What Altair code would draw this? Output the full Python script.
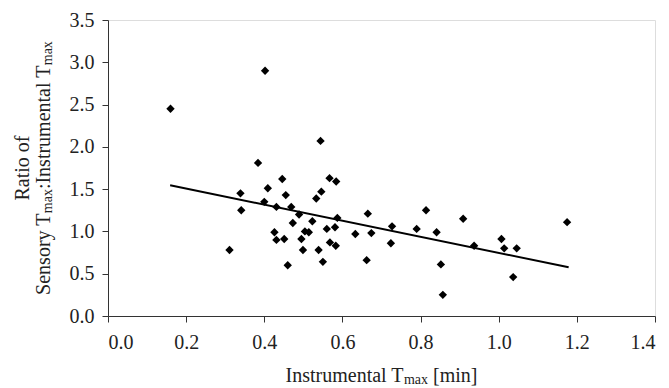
import altair as alt
import pandas as pd

# ---- data ----
instr_tmax = [0.402, 0.160, 0.384, 0.409, 0.339, 0.400, 0.341, 0.426, 0.431, 0.311,
              0.544, 0.446, 0.567, 0.584, 0.546, 0.533, 0.455, 0.431, 0.469, 0.489,
              0.473, 0.523, 0.587, 0.665, 0.451, 0.504, 0.514, 0.495, 0.560, 0.581,
              0.633, 0.674, 0.499, 0.539, 0.568, 0.583, 0.460, 0.550, 0.662, 0.727,
              0.724, 0.814, 0.790, 0.841, 0.909, 0.937, 0.852, 0.857, 1.175, 1.007,
              1.014, 1.046, 1.037]
ratio = [2.90, 2.45, 1.81, 1.51, 1.45, 1.35, 1.25, 0.99, 0.90, 0.78,
         2.07, 1.62, 1.63, 1.59, 1.47, 1.39, 1.43, 1.29, 1.29, 1.20,
         1.10, 1.12, 1.16, 1.21, 0.91, 1.00, 0.99, 0.91, 1.03, 1.05,
         0.97, 0.98, 0.78, 0.78, 0.87, 0.83, 0.60, 0.64, 0.66, 1.06,
         0.86, 1.25, 1.03, 0.99, 1.15, 0.83, 0.61, 0.25, 1.11, 0.91,
         0.80, 0.80, 0.46]
fit_x = [0.159, 1.179]
fit_y = [1.545, 0.576]
x_ticks = [0.0, 0.2, 0.4, 0.6, 0.8, 1.0, 1.2, 1.4]
y_ticks = [0.0, 0.5, 1.0, 1.5, 2.0, 2.5, 3.0, 3.5]

FONT = "Liberation Serif, Times New Roman, serif"
W, H = 547, 296
MAIN, SUB = 20, 14

# Times / Liberation Serif advance widths (per 1000 em)
TW = {"I": 333, "n": 500, "s": 389, "t": 278, "r": 333, "u": 500, "m": 778, "e": 444,
      "a": 444, "l": 278, " ": 250, "T": 611, "x": 500, "[": 333, "i": 278, "]": 333,
      "S": 556, "o": 500, "y": 500, ":": 278, "R": 667, "f": 333}


def tw(s, size):
    return sum(TW.get(c, 500) for c in s) * size / 1000.0


pts = pd.DataFrame({"x": instr_tmax, "y": ratio})
fit = pd.DataFrame({"x": fit_x, "y": fit_y})

xs = alt.Scale(domain=[0, 1.4], nice=False, zero=False)
ys = alt.Scale(domain=[0, 3.5], nice=False, zero=False)

axis_common = dict(labelFont=FONT, labelFontSize=MAIN, labelColor="#222", tickColor="#333",
                   domainColor="#333", tickSize=6, grid=False, format=".1f", title=None)

points = alt.Chart(pts).mark_point(shape="diamond", filled=True, color="black", size=70, opacity=1).encode(
    x=alt.X("x:Q", scale=xs, axis=alt.Axis(values=x_ticks, labelPadding=10, **axis_common)),
    y=alt.Y("y:Q", scale=ys, axis=alt.Axis(values=y_ticks, labelPadding=8, **axis_common)),
)

line = alt.Chart(fit).mark_line(color="black", strokeWidth=2).encode(
    x=alt.X("x:Q", scale=xs), y=alt.Y("y:Q", scale=ys))


def txt(s, x, y, size, angle=0, align="left"):
    return alt.Chart(alt.Data(values=[{}])).mark_text(
        text=s, font=FONT, fontSize=size, color="#222", angle=angle, align=align,
        baseline="alphabetic").encode(x=alt.value(x), y=alt.value(y))


layers = [points, line]

# x title: Instrumental T_max [min]  (leading spaces are drawn as offsets)
parts = [("Instrumental T", MAIN, 0), ("max", SUB, 2), (" [min]", MAIN, 0)]
total = sum(tw(s, sz) for s, sz, _ in parts)
cx = W / 2 - total / 2
for s, sz, dy in parts:
    lead = len(s) - len(s.lstrip(" "))
    layers.append(txt(s.lstrip(" "), cx + tw(" " * lead, sz), H + 66 + dy, sz))
    cx += tw(s, sz)

# y title line 1
layers.append(txt("Ratio of", -79, H / 2, MAIN, angle=270, align="center"))
# y title line 2: Sensory T_max:Instrumental T_max
parts = [("Sensory T", MAIN, 0), ("max", SUB, 2), (":Instrumental T", MAIN, 0), ("max", SUB, 2)]
total = sum(tw(s, sz) for s, sz, _ in parts)
cy = H / 2 + total / 2
for s, sz, dx in parts:
    layers.append(txt(s, -58 + dx, cy, sz, angle=270))
    cy -= tw(s, sz)

chart = alt.layer(*layers).properties(
    width=W, height=H,
    autosize=alt.AutoSizeParams(type="none"),
    padding={"left": 100, "top": 12, "right": 6, "bottom": 72},
).configure_view(stroke=None).configure(background="white")

chart.save("out.html", embed_options={"renderer": "svg", "actions": False})
